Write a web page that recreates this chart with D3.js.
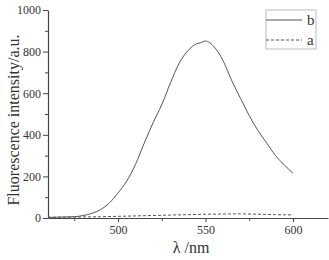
<!DOCTYPE html>
<html>
<head>
<meta charset="utf-8">
<script src="https://cdn.jsdelivr.net/npm/d3@7"></script>
<style>
  body { margin: 0; background: #fff; }
  svg { display: block; font-family: "Liberation Serif", "DejaVu Serif", serif; }
</style>
</head>
<body>
<div id="chart"></div>
<script>
// wavelength (nm) and intensity readings for the two spectra
const waveB = [460, 465, 470, 475, 480, 485, 490, 495, 500, 505, 510, 515, 520, 525, 530, 535, 540, 545, 547, 550, 555, 560, 565, 570, 575, 580, 585, 590, 595, 600];
const valueB = [3, 4, 5, 6, 12, 22, 40, 72, 120, 178, 258, 360, 457, 545, 650, 745, 805, 838, 842, 851, 822, 757, 660, 575, 492, 420, 360, 300, 255, 215];

const waveA = [460, 470, 480, 490, 500, 510, 520, 530, 540, 550, 560, 570, 580, 590, 600];
const valueA = [3, 4, 5, 6, 8, 10, 12, 14, 16, 18, 19, 20, 18, 16, 15];

const xTicks = [500, 550, 600];
const yTicks = [0, 200, 400, 600, 800, 1000];
const legendItems = [
  { label: 'b', dash: null },
  { label: 'a', dash: '3,2' }
];

const width = 329, height = 260;
const margin = { top: 10, right: 1, bottom: 42, left: 48 };
const innerW = width - margin.left - margin.right;
const innerH = height - margin.top - margin.bottom;

const svg = d3.select('#chart').append('svg')
  .attr('width', width)
  .attr('height', height);

const g = svg.append('g')
  .attr('transform', `translate(${margin.left},${margin.top})`);

const x = d3.scaleLinear().domain([460, 620]).range([0, innerW]);
const y = d3.scaleLinear().domain([0, 1000]).range([innerH, 0]);

const axisColor = '#444';

// minor ticks first so the major ones draw over them
g.append('g')
  .attr('transform', `translate(0,${innerH})`)
  .call(d3.axisBottom(x).tickValues([475, 525, 575]).tickSize(3).tickFormat(''))
  .call(s => s.select('.domain').remove());
g.append('g')
  .call(d3.axisLeft(y).tickValues([100, 300, 500, 700, 900]).tickSize(3).tickFormat(''))
  .call(s => s.select('.domain').remove());

g.append('g')
  .attr('transform', `translate(0,${innerH})`)
  .call(d3.axisBottom(x).tickValues(xTicks).tickFormat(d3.format('d'))
    .tickSize(4).tickSizeOuter(0).tickPadding(3));

g.append('g')
  .call(d3.axisLeft(y).tickValues(yTicks).tickFormat(d3.format('d'))
    .tickSize(5).tickSizeOuter(0).tickPadding(2));

g.selectAll('.tick line').attr('stroke', axisColor);
g.selectAll('.domain').attr('stroke', axisColor).attr('stroke-width', 1.2);
g.selectAll('.tick text')
  .attr('fill', '#333')
  .style('font-family', '"Liberation Serif", serif')
  .style('font-size', '12px');

const line = d3.line()
  .x(d => x(d[0]))
  .y(d => y(d[1]))
  .curve(d3.curveMonotoneX);

g.append('path')
  .datum(waveB.map((w, i) => [w, valueB[i]]))
  .attr('fill', 'none')
  .attr('stroke', '#555')
  .attr('stroke-width', 1)
  .attr('d', line);

g.append('path')
  .datum(waveA.map((w, i) => [w, valueA[i]]))
  .attr('fill', 'none')
  .attr('stroke', '#555')
  .attr('stroke-width', 1)
  .attr('stroke-dasharray', '3,2')
  .attr('d', line);

// axis titles
svg.append('text')
  .attr('transform', 'translate(19,120) rotate(-90)')
  .attr('text-anchor', 'middle')
  .attr('fill', '#333')
  .style('font-size', '16px')
  .text('Fluorescence intensity/a.u.');

svg.append('text')
  .attr('x', 191)
  .attr('y', 253)
  .attr('text-anchor', 'middle')
  .attr('fill', '#333')
  .style('font-size', '16px')
  .text('λ /nm');

// legend
const legend = svg.append('g').attr('transform', 'translate(266,10)');
legend.append('rect')
  .attr('width', 50)
  .attr('height', 39)
  .attr('fill', '#fff')
  .attr('stroke', '#aaa')
  .attr('stroke-width', 0.8);

const item = legend.selectAll('.item')
  .data(legendItems)
  .enter().append('g')
  .attr('class', 'item')
  .attr('transform', (_, i) => `translate(0,${10 + i * 20})`);

item.append('line')
  .attr('x1', 0).attr('x2', 36)
  .attr('stroke', '#555')
  .attr('stroke-width', 1)
  .attr('stroke-dasharray', d => d.dash);

item.append('text')
  .attr('x', 41)
  .attr('dy', '0.35em')
  .attr('fill', '#333')
  .style('font-size', '15px')
  .text(d => d.label);
</script>
</body>
</html>
